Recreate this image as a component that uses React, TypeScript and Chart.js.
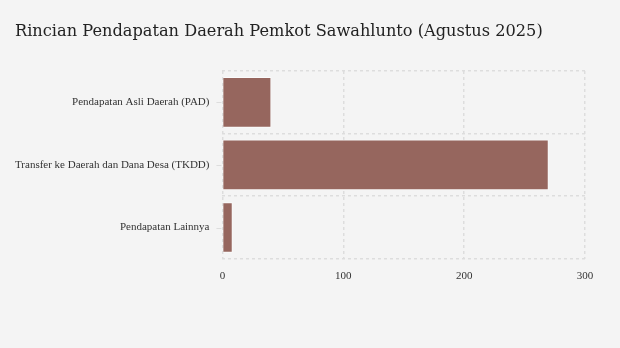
import React, { useEffect, useRef } from "react";
import { Chart, registerables } from "chart.js";

Chart.register(...registerables);

const categories = [
  "Pendapatan Asli Daerah (PAD)",
  "Transfer ke Daerah dan Dana Desa (TKDD)",
  "Pendapatan Lainnya",
];
const values = [40.5, 270, 8.5];
const xTicks = [0, 100, 200, 300];
const titleText = "Rincian Pendapatan Daerah Pemkot Sawahlunto (Agustus 2025)";

const tickMarks = {
  id: "tickMarks",
  afterDraw(chart: any) {
    const y = chart.scales.y;
    const ctx = chart.ctx;
    ctx.save();
    ctx.strokeStyle = "#dddddd";
    ctx.lineWidth = 1;
    for (let i = 0; i < categories.length; i++) {
      const py = Math.round(y.getPixelForValue(i)) + 0.5;
      ctx.beginPath();
      ctx.moveTo(y.right - 6, py);
      ctx.lineTo(y.right - 1, py);
      ctx.stroke();
    }
    ctx.restore();
  },
};

export default function App() {
  const ref = useRef<HTMLCanvasElement>(null);
  useEffect(() => {
    document.body.style.margin = "0";
    document.body.style.background = "#f4f4f4";
    const chart = new Chart(ref.current!, {
      type: "bar",
      data: {
        labels: categories,
        datasets: [
          {
            data: values,
            backgroundColor: "#96665e",
            borderColor: "rgba(255,255,255,0.6)",
            borderWidth: 1,
            barPercentage: 0.81,
            categoryPercentage: 1,
          },
        ],
      },
      plugins: [tickMarks],
      options: {
        indexAxis: "y",
        animation: false,
        responsive: false,
        layout: { padding: { left: 2, right: 35, top: 71, bottom: 54 } },
        plugins: {
          legend: { display: false },
          tooltip: { enabled: false },
          title: { display: false },
        },
        scales: {
          x: {
            min: 0,
            max: 300,
            afterBuildTicks: (s: any) => {
              s.ticks = xTicks.map((v) => ({ value: v }));
            },
            grid: {
              color: "#dddddd",
              lineWidth: 1.5,
              drawTicks: false,
            },
            border: { display: false, dash: [3, 3] },
            ticks: {
              color: "#333333",
              padding: 11,
              font: { family: "Liberation Serif", size: 11 },
            },
          },
          y: {
            grid: {
              offset: true,
              color: "#dddddd",
              lineWidth: 1.5,
              drawTicks: false,
            },
            border: { display: false, dash: [3, 3] },
            ticks: {
              color: "#333333",
              padding: 13,
              font: { family: "Liberation Serif", size: 11 },
            },
          },
        },
      } as any,
    });
    return () => chart.destroy();
  }, []);
  return (
    <div style={{ position: "relative", width: 620, height: 348, background: "#f4f4f4" }}>
      <div
        style={{
          position: "absolute",
          left: 15,
          top: 21,
          fontFamily: "DejaVu Serif",
          fontSize: 16.2,
          lineHeight: "20px",
          color: "#222222",
          whiteSpace: "nowrap",
        }}
      >
        {titleText}
      </div>
      <canvas ref={ref} width={620} height={348} style={{ display: "block" }} />
    </div>
  );
}
